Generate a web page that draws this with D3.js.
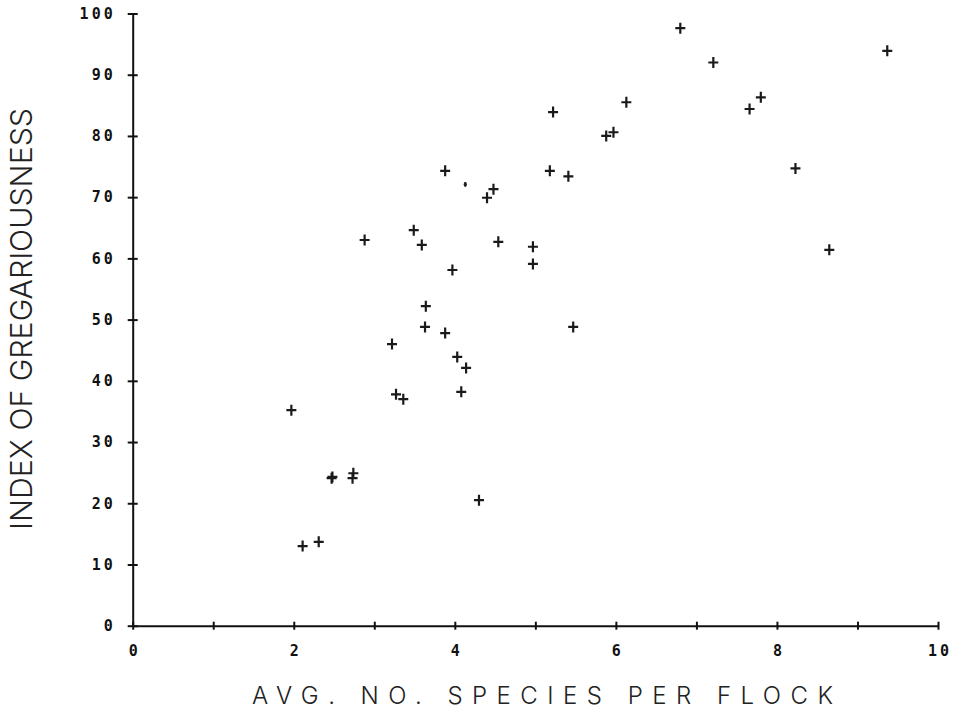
<!DOCTYPE html>
<html lang="en">
<head>
  <meta charset="UTF-8">
  <title>Gregariousness vs species per flock</title>
  <script src="https://cdnjs.cloudflare.com/ajax/libs/d3/7.8.5/d3.min.js"></script>
  <style>
    body {
      margin: 0;
      background-color: white;
    }

    .axis path, .axis line {
      stroke: #111;
      stroke-width: 2px;
    }

    .axis text {
      font-family: "DejaVu Sans Mono", "Liberation Mono", monospace;
      font-weight: 700;
      font-size: 15px;
      letter-spacing: 3px;
      fill: #111;
      font-variant-numeric: slashed-zero;
    }

    .title {
      font-family: Inter, "DejaVu Sans", sans-serif;
      font-weight: 300;
      fill: #222;
    }

    .mark {
      fill: none;
      stroke: #1a1a1a;
      stroke-width: 2.2px;
    }
  </style>
</head>
<body>
  <div id="graph"></div>

  <script>
    // values
    var speciesPerFlock = [6.80, 9.37, 7.21, 7.80, 7.66, 6.13, 5.22, 5.97, 5.88, 3.88,
                           5.18, 5.41, 8.23, 4.48, 4.40, 3.49, 2.88, 3.59, 4.54, 4.97,
                           4.97, 8.65, 3.97, 3.64, 3.63, 3.88, 5.47, 3.22, 4.03, 4.14,
                           4.08, 3.27, 3.36, 1.97, 2.47, 2.48, 2.74, 2.73, 4.30, 2.11,
                           2.31];
    var gregariousness  = [97.6, 93.9, 92.0, 86.3, 84.4, 85.5, 83.9, 80.6, 80.0, 74.3,
                           74.3, 73.4, 74.7, 71.3, 69.9, 64.6, 63.0, 62.2, 62.7, 61.9,
                           59.1, 61.4, 58.1, 52.2, 48.8, 47.8, 48.8, 46.0, 43.9, 42.1,
                           38.2, 37.8, 37.0, 35.2, 24.1, 24.3, 24.9, 24.1, 20.5, 13.0,
                           13.7];
    // a stray pen blot on the original plot
    var blotX = [4.13];
    var blotY = [72.1];

    var xTicks = [0, 1, 2, 3, 4, 5, 6, 7, 8, 9, 10];
    var yTicks = [0, 10, 20, 30, 40, 50, 60, 70, 80, 90, 100];
    var xTitle = "AVG. NO. SPECIES PER FLOCK";
    var yTitle = "INDEX OF GREGARIOUSNESS";

    var margin = {top: 13.5, right: 16, bottom: 84.3, left: 132.7},
        width = 954 - margin.left - margin.right,
        height = 710 - margin.top - margin.bottom;

    var x = d3.scaleLinear().domain([0, 10]).range([0, width]);
    var y = d3.scaleLinear().domain([0, 100]).range([height, 0]);

    var svg = d3.select("#graph").append("svg")
        .attr("width", 954)
        .attr("height", 710)
      .append("g")
        .attr("transform", "translate(" + margin.left + "," + margin.top + ")");

    // x axis, ticks cross the line, labels on even values only
    var gx = svg.append("g")
        .attr("class", "axis")
        .attr("transform", "translate(0," + height + ")")
        .call(d3.axisBottom(x)
          .tickValues(xTicks)
          .tickSizeInner(5)
          .tickSizeOuter(0)
          .tickPadding(15)
          .tickFormat(function(d) { return d % 2 === 0 ? d : ""; }));
    gx.selectAll(".tick line").attr("y1", -4).attr("y2", 4);
    gx.selectAll(".tick text").attr("dx", "1.5");

    // y axis
    var gy = svg.append("g")
        .attr("class", "axis")
        .call(d3.axisLeft(y)
          .tickValues(yTicks)
          .tickSizeInner(5)
          .tickSizeOuter(0)
          .tickPadding(12));
    gy.selectAll(".tick line").attr("x1", -5).attr("x2", 5);

    // points as plotter crosses
    svg.selectAll(".mark")
        .data(speciesPerFlock)
      .enter().append("path")
        .attr("class", "mark")
        .attr("d", "M-5,0H5M0,-5.5V5.5")
        .attr("transform", function(d, i) {
          return "translate(" + x(d) + "," + y(gregariousness[i]) + ")";
        });

    svg.selectAll(".blot")
        .data(blotX)
      .enter().append("ellipse")
        .attr("class", "blot")
        .attr("cx", function(d) { return x(d); })
        .attr("cy", function(d, i) { return y(blotY[i]); })
        .attr("rx", 1.6)
        .attr("ry", 2.6)
        .attr("fill", "#222");

    // axis titles
    svg.append("text")
        .attr("class", "title")
        .attr("x", 119.3)
        .attr("y", height + 78)
        .attr("font-size", 24)
        .attr("textLength", 581)
        .attr("lengthAdjust", "spacing")
        .text(xTitle);

    svg.append("text")
        .attr("class", "title")
        .attr("transform", "translate(" + (-100.7) + "," + (530 - margin.top) + ") rotate(-90)")
        .attr("font-size", 30)
        .attr("textLength", 422)
        .attr("lengthAdjust", "spacingAndGlyphs")
        .text(yTitle);
  </script>
</body>
</html>
